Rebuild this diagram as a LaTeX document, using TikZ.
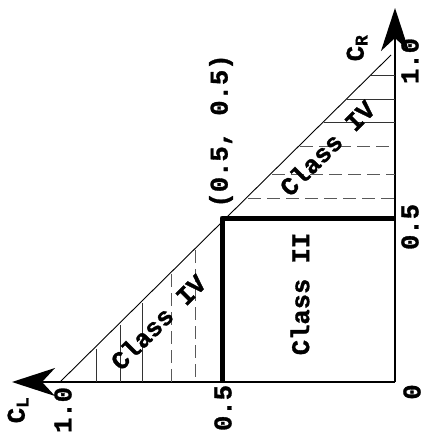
\documentclass[tikz,border=0pt]{standalone}
\usepackage{fontspec}
\setmainfont{Liberation Mono}[BoldFeatures={FakeBold=1.2}]
\usetikzlibrary{arrows.meta}
\usetikzlibrary{positioning}

\begin{document}
\begin{tikzpicture}
    [x=1pt,y=-1pt,
thinline/.style={line width=0.9pt},hatchline/.style={line width=0.8pt, black!80},dashline/.style={line width=0.8pt, black!65, dash pattern=on 13pt off 6pt},
thickline/.style={line width=5pt, line join=round},axisline/.style={line width=1.6pt},
labeltext/.style={font=\fontsize{25.5}{27}\selectfont\bfseries, inner sep=0pt}
]
\useasboundingbox (0,0) rectangle (433,433);
\coordinate (origin) at (395,382);
\coordinate (tipL) at (12,382);
\coordinate (tipR) at (395,8);
\coordinate (cornerL) at (60,382);
\coordinate (cornerR) at (391,55);
\coordinate (mid) at (222,218);
\coordinate (midL) at (222,382);
\coordinate (midR) at (395,218);

\draw[axisline,-{Stealth[length=43pt,width=28pt,inset=13pt]}] (origin) to (tipL);
\draw[axisline,-{Stealth[length=43pt,width=28pt,inset=13pt]}] (origin) to (tipR);
\draw[thinline] (cornerL) to (cornerR);

\foreach \x in {96,120,142} \draw[hatchline] (\x,382) -- (\x,{382-(\x-60)+3});
\foreach \x in {171,195} \draw[dashline] (\x,{382-(\x-60)+3}) -- (\x,382);
\foreach \y in {75,99,122} \draw[hatchline] ({442-\y+4},\y) -- (395,\y);
\foreach \y in {146,174,198} \draw[dashline] ({442-\y+4},\y) -- (395,\y);

\draw[thickline] (midL) -- (mid) -- (midR);

\node[labeltext, rotate=90] (cl) at (18,410) {C\textsubscript{L}};
\node[labeltext, rotate=90] (onel) at (63,410) {1.0};
\node[labeltext, rotate=90] (halfl) at (223,408) {0.5};
\node[labeltext, rotate=90] (zero) at (412,392) {0};
\node[labeltext, rotate=90] (halfr) at (410,227) {0.5};
\node[labeltext, rotate=90] (oner) at (410,61) {1.0};
\node[labeltext, rotate=90] (cr) at (357,48) {C\textsubscript{R}};
\node[labeltext, rotate=90] (point) at (221,131) {(0.5, 0.5)};
\node[labeltext, rotate=90] (classii) at (300,294) {Class II};
\node[labeltext, rotate=45] (classivl) at (158,322) {Class IV};
\node[labeltext, rotate=45] (classivr) at (327,148) {Class IV};
\end{tikzpicture}
\end{document}
